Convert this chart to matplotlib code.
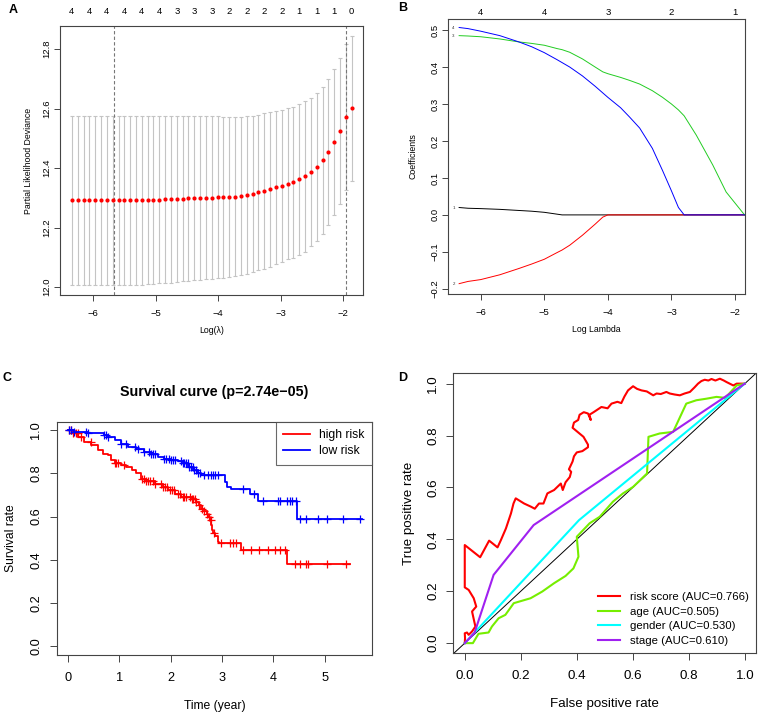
import numpy as np
import matplotlib
matplotlib.use("Agg")
import matplotlib.pyplot as plt

plt.rcParams['font.family'] = ['Liberation Sans', 'DejaVu Sans']

# ---- A: cross-validated partial likelihood deviance
cv_loglam = [-6.340, -6.247, -6.154, -6.060, -5.967, -5.874, -5.781, -5.688, -5.594, -5.501,
             -5.408, -5.315, -5.222, -5.128, -5.035, -4.942, -4.849, -4.756, -4.662, -4.569,
             -4.476, -4.383, -4.290, -4.196, -4.103, -4.010, -3.917, -3.824, -3.730, -3.637,
             -3.544, -3.451, -3.358, -3.264, -3.171, -3.078, -2.985, -2.892, -2.798, -2.705,
             -2.612, -2.519, -2.426, -2.332, -2.239, -2.146, -2.053, -1.960, -1.866]
cv_dev = [12.291, 12.291, 12.291, 12.291, 12.291, 12.291, 12.291, 12.291, 12.291, 12.291,
          12.291, 12.292, 12.292, 12.293, 12.293, 12.294, 12.295, 12.295, 12.296, 12.297,
          12.298, 12.299, 12.300, 12.300, 12.301, 12.302, 12.302, 12.303, 12.304, 12.306,
          12.309, 12.313, 12.318, 12.323, 12.328, 12.335, 12.340, 12.347, 12.353, 12.362,
          12.372, 12.386, 12.404, 12.426, 12.453, 12.487, 12.525, 12.571, 12.601]
cv_se = [0.285, 0.285, 0.285, 0.285, 0.285, 0.285, 0.285, 0.285, 0.285, 0.285,
         0.285, 0.284, 0.284, 0.283, 0.283, 0.282, 0.281, 0.280, 0.279, 0.278,
         0.277, 0.276, 0.275, 0.274, 0.273, 0.272, 0.271, 0.269, 0.268, 0.267,
         0.265, 0.263, 0.261, 0.261, 0.261, 0.257, 0.256, 0.254, 0.254, 0.253,
         0.253, 0.249, 0.250, 0.248, 0.246, 0.246, 0.245, 0.246, 0.244]
cv_nzero = [4, 4, 4, 4, 4, 4, 3, 3, 3, 2, 2, 2, 2, 1, 1, 1, 0]   # shown at every 3rd lambda
lam_min, lam_1se = -5.66, -1.95

# ---- B: coefficient paths
path_loglam = [-6.34, -6.20, -6.00, -5.70, -5.40, -5.20, -5.00, -4.80, -4.72, -4.60, -4.40,
               -4.20, -4.08, -4.00, -3.80, -3.66, -3.50, -3.30, -3.14, -3.00, -2.89, -2.80,
               -2.61, -2.35, -2.14, -1.85]
coef1 = [0.020, 0.018, 0.017, 0.015, 0.012, 0.010, 0.007, 0.002, 0.0, 0.0, 0.0,
         0.0, 0.0, 0.0, 0.0, 0.0, 0.0, 0.0, 0.0, 0.0, 0.0, 0.0, 0.0, 0.0, 0.0, 0.0]
coef2 = [-0.186, -0.180, -0.175, -0.162, -0.145, -0.133, -0.120, -0.102, -0.095, -0.082, -0.055,
         -0.025, -0.006, 0.0, 0.0, 0.0, 0.0, 0.0, 0.0, 0.0, 0.0, 0.0, 0.0, 0.0, 0.0, 0.0]
coef3 = [0.485, 0.484, 0.482, 0.476, 0.468, 0.464, 0.459, 0.450, 0.447, 0.440, 0.422,
         0.400, 0.387, 0.382, 0.372, 0.364, 0.354, 0.336, 0.318, 0.300, 0.284, 0.268,
         0.216, 0.135, 0.062, 0.0]
coef4 = [0.507, 0.504, 0.497, 0.485, 0.468, 0.455, 0.439, 0.420, 0.412, 0.400, 0.376,
         0.348, 0.330, 0.318, 0.290, 0.265, 0.235, 0.180, 0.120, 0.065, 0.020, 0.0,
         0.0, 0.0, 0.0, 0.0]
path_top_at = [-6, -5, -4, -3, -2]
path_top_df = [4, 4, 3, 2, 1]

# ---- C: Kaplan-Meier
high_t = [0, 0.10, 0.195, 0.325, 0.455, 0.585, 0.68, 0.78, 0.845, 0.91, 1.04, 1.14, 1.24,
          1.33, 1.43, 1.53, 1.69, 1.85, 1.95, 2.08, 2.21, 2.41, 2.50, 2.55, 2.60, 2.65, 2.70,
          2.73, 2.76, 2.79, 2.81, 2.83, 2.86, 2.92, 2.95, 3.38, 4.27]
high_s = [1.0, 0.988, 0.969, 0.946, 0.930, 0.907, 0.892, 0.884, 0.861, 0.846, 0.838, 0.830,
          0.815, 0.800, 0.776, 0.765, 0.753, 0.738, 0.722, 0.707, 0.691, 0.684, 0.668, 0.655,
          0.637, 0.625, 0.614, 0.600, 0.583, 0.560, 0.540, 0.523, 0.510, 0.483, 0.478, 0.444, 0.383]
high_end = 5.49
high_cens = [0.03, 0.07, 0.10, 0.16, 0.19, 0.26, 0.45, 0.91, 0.94, 0.97, 1.10, 1.45, 1.49, 1.53,
             1.56, 1.60, 1.65, 1.69, 1.82, 1.86, 1.90, 1.94, 1.98, 2.02, 2.07, 2.14, 2.18, 2.24,
             2.27, 2.30, 2.37, 2.41, 2.44, 2.47, 2.50, 2.56, 2.61, 2.66, 2.71, 2.74, 2.78, 2.84,
             2.99, 3.15, 3.21, 3.27, 3.41, 3.57, 3.73, 3.90, 4.03, 4.12, 4.23, 4.42, 4.51, 4.63,
             4.68, 5.05, 5.42]
low_t = [0, 0.13, 0.39, 0.71, 0.78, 0.91, 1.04, 1.17, 1.33, 1.49, 1.62, 1.75, 1.88, 2.01, 2.14,
         2.24, 2.34, 2.44, 2.53, 2.60, 3.05, 3.10, 3.17, 3.55, 3.70, 4.46]
low_s = [1.0, 0.992, 0.985, 0.977, 0.969, 0.954, 0.938, 0.923, 0.911, 0.900, 0.892, 0.877,
         0.869, 0.864, 0.858, 0.846, 0.830, 0.815, 0.800, 0.792, 0.761, 0.738, 0.730, 0.707,
         0.673, 0.588]
low_end = 5.72
low_cens = [0.03, 0.07, 0.13, 0.36, 0.39, 0.71, 0.75, 0.78, 1.04, 1.14, 1.30, 1.36, 1.49, 1.58,
            1.62, 1.65, 1.69, 1.88, 1.92, 1.96, 2.01, 2.04, 2.08, 2.21, 2.24, 2.27, 2.30, 2.33,
            2.36, 2.40, 2.43, 2.46, 2.50, 2.53, 2.57, 2.66, 2.72, 2.78, 2.83, 2.86, 2.92, 3.41,
            3.63, 3.80, 4.09, 4.12, 4.27, 4.32, 4.37, 4.45, 4.51, 4.63, 4.87, 5.05, 5.35, 5.68]

# ---- D: ROC curves
risk_fpr = [0, 0.001, 0.0, 0.008, 0.014, 0.026, 0.038, 0.034, 0.026, 0.041, 0.032, 0.014, 0.0, 0.0,
            0.055, 0.069, 0.087, 0.117, 0.129, 0.147, 0.165, 0.174, 0.182, 0.212, 0.236, 0.250,
            0.265, 0.281, 0.295, 0.319, 0.343, 0.350, 0.360, 0.375, 0.380, 0.372, 0.385, 0.390,
            0.400, 0.420, 0.440, 0.440, 0.424, 0.385, 0.390, 0.405, 0.410, 0.425, 0.440, 0.450,
            0.445, 0.460, 0.488, 0.510, 0.524, 0.545, 0.559, 0.570, 0.583, 0.601, 0.615, 0.631,
            0.650, 0.673, 0.685, 0.700, 0.720, 0.732, 0.750, 0.768, 0.785, 0.804, 0.820, 0.833,
            0.845, 0.857, 0.870, 0.881, 0.895, 0.911, 0.925, 0.935, 0.959, 0.971, 0.985, 1.0]
risk_tpr = [0, 0.019, 0.038, 0.041, 0.032, 0.045, 0.064, 0.083, 0.122, 0.141, 0.173, 0.205, 0.215,
            0.378, 0.331, 0.359, 0.395, 0.369, 0.397, 0.442, 0.500, 0.538, 0.558, 0.538, 0.526,
            0.518, 0.538, 0.538, 0.577, 0.590, 0.615, 0.590, 0.620, 0.640, 0.660, 0.670, 0.700,
            0.720, 0.735, 0.740, 0.755, 0.765, 0.795, 0.830, 0.850, 0.860, 0.880, 0.890, 0.885,
            0.860, 0.880, 0.890, 0.910, 0.905, 0.923, 0.930, 0.925, 0.950, 0.974, 0.990, 0.980,
            0.974, 0.970, 0.955, 0.962, 0.960, 0.968, 0.962, 0.958, 0.955, 0.962, 0.968, 0.985,
            1.000, 1.010, 1.015, 1.012, 1.018, 1.012, 1.019, 1.012, 1.006, 0.993, 1.000, 1.000, 1.0]
age_fpr = [0, 0.029, 0.049, 0.085, 0.097, 0.121, 0.145, 0.175, 0.235, 0.277, 0.319, 0.360, 0.388,
           0.406, 0.400, 0.446, 0.482, 0.529, 0.565, 0.601, 0.651, 0.656, 0.696, 0.744, 0.791,
           0.827, 0.863, 0.899, 0.930, 0.971, 1.0]
age_tpr = [0, 0.0, 0.036, 0.041, 0.064, 0.096, 0.109, 0.154, 0.173, 0.199, 0.231, 0.259, 0.288,
           0.333, 0.410, 0.462, 0.487, 0.545, 0.577, 0.602, 0.654, 0.795, 0.808, 0.814, 0.923,
           0.936, 0.942, 0.949, 0.945, 0.993, 1.0]
gender_fpr = [0, 0.408, 1.0]
gender_tpr = [0, 0.474, 1.0]
stage_fpr = [0, 0.035, 0.103, 0.246, 1.0]
stage_tpr = [0, 0.040, 0.263, 0.455, 1.0]
roc_labels = ["risk score (AUC=0.766)", "age (AUC=0.505)", "gender (AUC=0.530)", "stage (AUC=0.610)"]
roc_colors = ["#ff0000", "#76ee00", "#00ffff", "#a020f0"]

W, H = 758, 716
fig = plt.figure(figsize=(W / 100, H / 100), dpi=100)


def box(l, t, r, b):
    return [l / W, 1 - b / H, (r - l) / W, (b - t) / H]


def rstyle(ax, fs, tl=4, xpad=2, ypad=2, col="#444444"):
    for s in ax.spines.values():
        s.set_color(col)
        s.set_linewidth(0.8)
    ax.tick_params(direction="out", length=tl, width=0.7, color=col, labelsize=fs)
    ax.tick_params(axis="x", pad=xpad)
    ax.tick_params(axis="y", labelrotation=90, pad=ypad)
    for lb in ax.get_yticklabels():
        lb.set_va("center")


# A
axA = fig.add_axes(box(60, 26, 363, 295))
axA.errorbar(cv_loglam, cv_dev, yerr=cv_se, fmt="none", ecolor="#c4c4c4", elinewidth=0.8,
             capsize=1.6, capthick=0.8, zorder=1)
axA.plot(cv_loglam, cv_dev, "o", color="red", ms=3.0, mec="none", zorder=3)
axA.axvline(lam_min, ls=(0, (3, 2)), color="#777777", lw=0.8)
axA.axvline(lam_1se, ls=(0, (3, 2)), color="#777777", lw=0.8)
axA.set_xlim(-6.53, -1.685)
axA.set_ylim(11.973, 12.878)
axA.set_xticks([-6, -5, -4, -3, -2])
axA.set_yticks([12.0, 12.2, 12.4, 12.6, 12.8])
axA.set_yticklabels(["12.0", "12.2", "12.4", "12.6", "12.8"])
rstyle(axA, 6.8, xpad=6)
axA.set_xlabel("Log(λ)", fontsize=6.3, labelpad=5.5)
axA.set_ylabel("Partial Likelihood Deviance", fontsize=6.3, labelpad=7)
topA = axA.secondary_xaxis("top")
topA.set_xticks(cv_loglam[::3])
topA.set_xticklabels([str(v) for v in cv_nzero])
topA.tick_params(length=0, labelsize=6.8, pad=7)
topA.spines["top"].set_visible(False)

# B
axB = fig.add_axes(box(448, 19, 745, 294))
for c, col in zip([coef1, coef2, coef3, coef4], ["#000000", "#ff0000", "#22cc22", "#0000ff"]):
    axB.plot(path_loglam, c, color=col, lw=0.7)
for i, c in enumerate([coef1, coef2, coef3, coef4]):
    axB.text(path_loglam[0] - 0.07, c[0], str(i + 1), fontsize=3.2, ha="right", va="center",
             color="#333333")
axB.set_xlim(-6.515, -1.843)
axB.set_ylim(-0.214, 0.53)
axB.set_xticks([-6, -5, -4, -3, -2])
axB.set_yticks([-0.2, -0.1, 0.0, 0.1, 0.2, 0.3, 0.4, 0.5])
rstyle(axB, 6.8, xpad=6)
axB.set_xlabel("Log Lambda", fontsize=6.3, labelpad=5.5)
axB.set_ylabel("Coefficients", fontsize=6.3, labelpad=9.5)
topB = axB.secondary_xaxis("top")
topB.set_xticks(path_top_at)
topB.set_xticklabels([str(v) for v in path_top_df])
topB.tick_params(length=0, labelsize=6.8, pad=1.5)
topB.spines["top"].set_visible(False)

# C
axC = fig.add_axes(box(57, 422, 372, 655))


def km(ax, t, s, end, cens, col, lab):
    ax.step(list(t) + [end], list(s) + [s[-1]], where="post", color=col, lw=1.3, label=lab)
    t = np.asarray(t)
    s = np.asarray(s)
    cy = s[np.searchsorted(t, cens, side="right") - 1]
    ax.plot(cens, cy, "+", color=col, ms=6, mew=0.9, ls="none")


km(axC, high_t, high_s, high_end, high_cens, "#ff0000", "high risk")
km(axC, low_t, low_s, low_end, low_cens, "#0000ff", "low risk")
axC.set_xlim(-0.21, 5.92)
axC.set_ylim(-0.04, 1.038)
axC.set_xticks([0, 1, 2, 3, 4, 5])
axC.set_yticks([0.0, 0.2, 0.4, 0.6, 0.8, 1.0])
axC.set_yticklabels(["0.0", "0.2", "0.4", "0.6", "0.8", "1.0"])
rstyle(axC, 9.2, tl=5, xpad=7.5, ypad=5.5)
axC.set_xlabel("Time (year)", fontsize=8.7, labelpad=11)
axC.set_ylabel("Survival rate", fontsize=8.7)
axC.yaxis.set_label_coords(-0.128, 0.5)
axC.set_title("Survival curve (p=2.74e\u221205)", fontsize=10.3, fontweight="bold", pad=19)
legC = axC.legend(loc="upper right", fontsize=8.7, frameon=True, fancybox=False,
                  borderaxespad=0, handlelength=2.2, borderpad=0.6, labelspacing=0.35)
legC.get_frame().set_edgecolor("#444444")
legC.get_frame().set_linewidth(0.8)

# D
axD = fig.add_axes(box(453, 373, 756, 653))
axD.axline((0, 0), (1, 1), color="black", lw=0.7)
for fx, ty, col, lab in zip([risk_fpr, age_fpr, gender_fpr, stage_fpr],
                            [risk_tpr, age_tpr, gender_tpr, stage_tpr], roc_colors, roc_labels):
    axD.plot(fx, ty, color=col, lw=1.5, label=lab)
axD.set_xlim(-0.042, 1.04)
axD.set_ylim(-0.038, 1.041)
axD.set_xticks([0.0, 0.2, 0.4, 0.6, 0.8, 1.0])
axD.set_xticklabels(["0.0", "0.2", "0.4", "0.6", "0.8", "1.0"])
axD.set_yticks([0.0, 0.2, 0.4, 0.6, 0.8, 1.0])
axD.set_yticklabels(["0.0", "0.2", "0.4", "0.6", "0.8", "1.0"])
rstyle(axD, 9.6, tl=5, xpad=7.5, ypad=5)
axD.set_xlabel("False positive rate", fontsize=9.6, labelpad=11)
axD.set_ylabel("True positive rate", fontsize=9.6, labelpad=9)
axD.legend(loc="lower right", bbox_to_anchor=(1.0, 0.0), fontsize=8.2, frameon=False,
           handlelength=1.95, handletextpad=0.9, labelspacing=0.42, borderaxespad=0.2)

for lab, x, y in [("A", 13, 10), ("B", 403, 8), ("C", 7, 378), ("D", 403, 378)]:
    fig.text(x / W, 1 - y / H, lab, fontsize=9, fontweight="bold", ha="center", va="center")

fig.savefig("out.png", dpi=100)
